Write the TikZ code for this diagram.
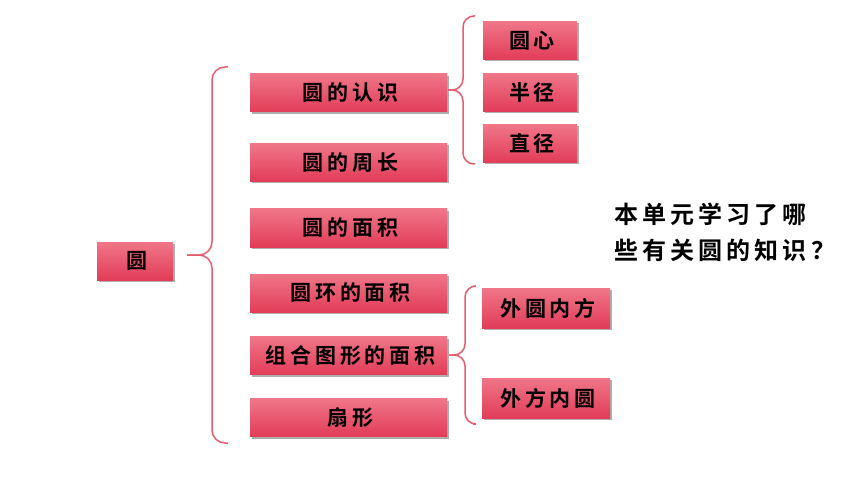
\documentclass[tikz,border=0pt]{standalone}
\usepackage{fontspec}
\newfontfamily\cjk[LetterSpace=18, BoldFont={Noto Sans CJK SC Bold}]{Noto Sans CJK SC}
\newfontfamily\cjkq[LetterSpace=17, BoldFont={Noto Sans CJK SC Bold}]{Noto Sans CJK SC}
\usetikzlibrary{shadows}
\definecolor{boxtop}{RGB}{240,118,136}
\definecolor{boxbot}{RGB}{226,60,88}
\definecolor{bracecol}{RGB}{232,92,112}
\tikzset{
  pinkbox/.style={inner sep=0pt, top color=boxtop, bottom color=boxbot, draw=none,
    drop shadow={shadow xshift=1.5pt, shadow yshift=-2pt, opacity=0.45, fill=black!70},
    font=\cjk\bfseries\fontsize{21}{24}\selectfont, text=black},
  mainbox/.style={pinkbox, minimum width=197pt, minimum height=38pt},
  subbox/.style={pinkbox, minimum width=94pt, minimum height=38pt},
  widebox/.style={pinkbox, minimum width=128pt, minimum height=40pt},
  bracepath/.style={draw=bracecol, line width=1.5pt, rounded corners=13pt}
}
\begin{document}
\begin{tikzpicture}[x=1pt,y=-1pt]
\useasboundingbox (0,0) rectangle (860,484);
\node[pinkbox, minimum width=76pt, minimum height=38pt] (root) at (135,261) {\hspace{4pt}圆};
\node[mainbox] (a) at (348.5,93) {\hspace{4pt}圆的认识};
\node[mainbox] (b) at (348.5,162.5) {\hspace{4pt}圆的周长};
\node[mainbox] (c) at (348.5,228) {\hspace{4pt}圆的面积};
\node[mainbox] (d) at (348.5,293) {\hspace{4pt}圆环的面积};
\node[mainbox] (e) at (348.5,355.5) {\hspace{4pt}组合图形的面积};
\node[mainbox] (f) at (348.5,417.5) {\hspace{4pt}扇形};
\node[subbox] (a1) at (530,40.5) {\hspace{4pt}圆心};
\node[subbox] (a2) at (530,92.5) {\hspace{4pt}半径};
\node[subbox] (a3) at (530,143.5) {\hspace{4pt}直径};
\node[widebox] (e1) at (546,308) {\hspace{4pt}外圆内方};
\node[widebox] (e2) at (546,398) {\hspace{4pt}外方内圆};
\node[font=\cjkq\bfseries\fontsize{24}{28}\selectfont, anchor=west, align=left] (q) at (611,232)
  {本单元学习了哪\\[8pt]些有关圆的知识？};
% braces
\coordinate (t0) at (187,255);
\coordinate (t1) at (448,90);
\coordinate (t2) at (449,355);
\draw[bracepath] (228,67) -- (212,67) -- (212,255) -- (t0);
\draw[bracepath] (228,443) -- (212,443) -- (212,255) -- (t0);
\draw[bracepath, rounded corners=11pt] (475,16) -- (463,16) -- (463,90) -- (t1);
\draw[bracepath, rounded corners=11pt] (475,164) -- (463,164) -- (463,90) -- (t1);
\draw[bracepath, rounded corners=11pt] (473,286) -- (465,286) -- (465,355) -- (t2);
\draw[bracepath, rounded corners=11pt] (473,424) -- (465,424) -- (465,355) -- (t2);
\end{tikzpicture}
\end{document}
